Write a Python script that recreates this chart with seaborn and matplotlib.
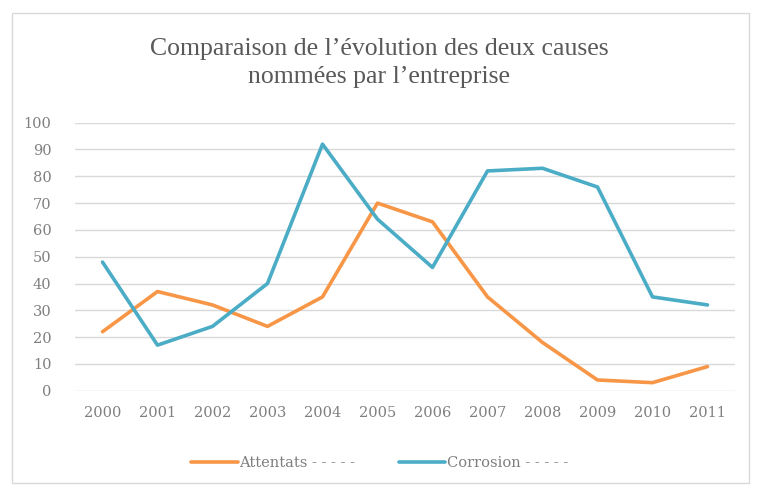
import pandas as pd
import seaborn as sns
import matplotlib.pyplot as plt
from matplotlib.patches import Rectangle

years = list(range(2000, 2012))
attentats = [22, 37, 32, 24, 35, 70, 63, 35, 18, 4, 3, 9]
corrosion = [48, 17, 24, 40, 92, 64, 46, 82, 83, 76, 35, 32]
series_names = ["Attentats", "Corrosion"]
colors = ["#F79646", "#4BACC6"]

df = pd.DataFrame({
    "year": [str(y) for y in years] * 2,
    "value": attentats + corrosion,
    "cause": [series_names[0]] * len(years) + [series_names[1]] * len(years),
})

sns.set_theme(style="white")
plt.rcParams['font.family'] = ['DejaVu Serif']
grey = "#595959"
tick_grey = "#7F7F7F"

fig = plt.figure(figsize=(7.59, 4.93), dpi=100)
ax = fig.add_axes([75 / 759, 1 - 390.7 / 493, 660 / 759, 268 / 493])

sns.lineplot(data=df, x="year", y="value", hue="cause", palette=colors,
             linewidth=2.6, ax=ax, legend=False, sort=False)

ax.set_xlim(-0.5, len(years) - 0.5)
ax.set_ylim(0, 100)
ax.set_yticks(range(0, 101, 10))
ax.yaxis.grid(True, color="#D9D9D9", linewidth=1)
ax.set_axisbelow(True)
for s in ax.spines.values():
    s.set_visible(False)
ax.tick_params(axis="both", colors=tick_grey, labelsize=10.5, length=0)
ax.tick_params(axis="y", pad=17)
ax.tick_params(axis="x", pad=11)
ax.set_xlabel("")
ax.set_ylabel("")

fig.text(0.5, 1 - 63 / 493, "Comparaison de l\u2019\u00e9volution des deux causes\nnomm\u00e9es par l\u2019entreprise",
         ha="center", va="center", fontsize=18.5, color=grey, linespacing=1.4,
         family=['Liberation Serif', 'DejaVu Serif'])

handles = [plt.Line2D([], [], color=c, linewidth=2.6) for c in colors]
labels = [n + " - - - - -" for n in series_names]
fig.legend(handles, labels, loc="center", bbox_to_anchor=(0.5, 1 - 463 / 493),
           ncol=2, frameon=False, fontsize=10.5, labelcolor=tick_grey,
           handlelength=3.2, handletextpad=0.1, columnspacing=3)

fig.patches.append(Rectangle((12 / 759, 1 - 483 / 493), 737 / 759, 470 / 493,
                             transform=fig.transFigure, fill=False,
                             edgecolor="#D9D9D9", linewidth=1))

fig.savefig("out.png", dpi=100, facecolor="white")
